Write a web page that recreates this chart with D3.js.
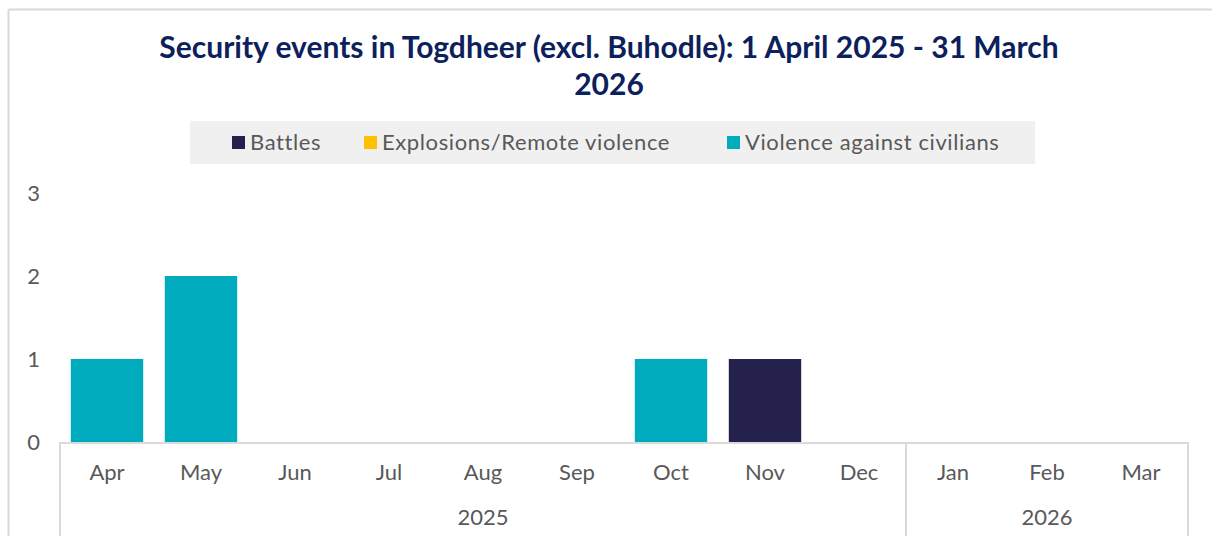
<!DOCTYPE html>
<html><head><meta charset="utf-8">
<script src="https://cdn.jsdelivr.net/npm/d3@7"></script>
<style>body{margin:0;background:#fff;}svg{display:block;font-family:Lato,"Open Sans",sans-serif;}</style>
</head><body><svg id="c" width="1212" height="536"></svg>
<script>
const months = ["Apr","May","Jun","Jul","Aug","Sep","Oct","Nov","Dec","Jan","Feb","Mar"];
const years = [{label:"2025", from:0, to:9},{label:"2026", from:9, to:12}];
const seriesNames = ["Battles","Explosions/Remote violence","Violence against civilians"];
const battles =    [0,0,0,0,0,0,0,1,0,0,0,0];
const explosions = [0,0,0,0,0,0,0,0,0,0,0,0];
const vac =        [1,2,0,0,0,0,1,0,0,0,0,0];
const colors = ["#24224c","#ffc000","#00abbd"];
const yTicks = [0,1,2,3];
const title1 = "Security events in Togdheer (excl. Buhodle): 1 April 2025 - 31 March";
const title2 = "2026";

const svg = d3.select("#c");
// frame
svg.append("line").attr("x1",8.5).attr("x2",1212).attr("y1",9.5).attr("y2",9.5).attr("stroke","#d9d9d9").attr("stroke-width",2);
svg.append("line").attr("x1",8.5).attr("x2",8.5).attr("y1",9.5).attr("y2",536).attr("stroke","#d9d9d9").attr("stroke-width",2);

// title
const tt = svg.append("text").attr("text-anchor","middle").attr("fill","#0d1f5c").attr("font-weight","bold").attr("font-size",30);
tt.append("tspan").attr("x",609).attr("y",58).text(title1);
tt.append("tspan").attr("x",609).attr("y",95).text(title2);

// legend
svg.append("rect").attr("x",190).attr("y",121).attr("width",845).attr("height",43).attr("fill","#f0f0f0");
const legX = [232,364,727];
seriesNames.forEach((n,i)=>{
  svg.append("rect").attr("x",legX[i]).attr("y",136).attr("width",13).attr("height",13).attr("fill",colors[i]);
  svg.append("text").attr("x",legX[i]+18).attr("y",150).attr("font-size",22).attr("letter-spacing",0.6).attr("fill","#595959").text(n);
});

const x = d3.scaleBand().domain(months).range([60,1188]).paddingInner(0.23).paddingOuter(0.115);
const y = d3.scaleLinear().domain([0,3]).range([442,193]);

// y tick labels
svg.append("g").attr("transform","translate(40,0)")
  .call(d3.axisLeft(y).tickValues(yTicks).tickSize(0).tickPadding(0).tickFormat(d3.format("d")))
  .call(g=>g.select(".domain").remove())
  .call(g=>g.selectAll("text").attr("font-size",22).attr("fill","#595959").attr("font-family","Lato,'Open Sans',sans-serif"));

// stacked bars
const data = months.map((m,i)=>({m, b:battles[i], e:explosions[i], v:vac[i]}));
const stack = d3.stack().keys(["b","e","v"])(data);
stack.forEach((s,si)=>{
  svg.append("g").attr("fill",colors[si]).selectAll("rect").data(s.filter(d=>d[1]>d[0])).join("rect")
    .attr("x",d=>x(d.data.m)).attr("width",x.bandwidth())
    .attr("y",d=>y(d[1])).attr("height",d=>y(d[0])-y(d[1]));
});

// x axis
const step = x.step();
const x0 = 60;
svg.append("line").attr("x1",x0).attr("x2",1188).attr("y1",y(0)+1).attr("y2",y(0)+1).attr("stroke","#d9d9d9").attr("stroke-width",2);
const bounds = [0,9,12];
bounds.forEach(b=>{
  const xx = x0 + b*step;
  svg.append("line").attr("x1",xx).attr("x2",xx).attr("y1",y(0)).attr("y2",536).attr("stroke","#d9d9d9").attr("stroke-width",2);
});
svg.append("g").selectAll("text").data(months).join("text")
  .attr("x",d=>x(d)+x.bandwidth()/2).attr("y",480).attr("text-anchor","middle")
  .attr("font-size",22).attr("fill","#595959").text(d=>d);
svg.append("g").selectAll("text").data(years).join("text")
  .attr("x",d=>x0+(d.from+d.to)/2*step).attr("y",525).attr("text-anchor","middle")
  .attr("font-size",22).attr("fill","#595959").text(d=>d.label);
</script></body></html>
